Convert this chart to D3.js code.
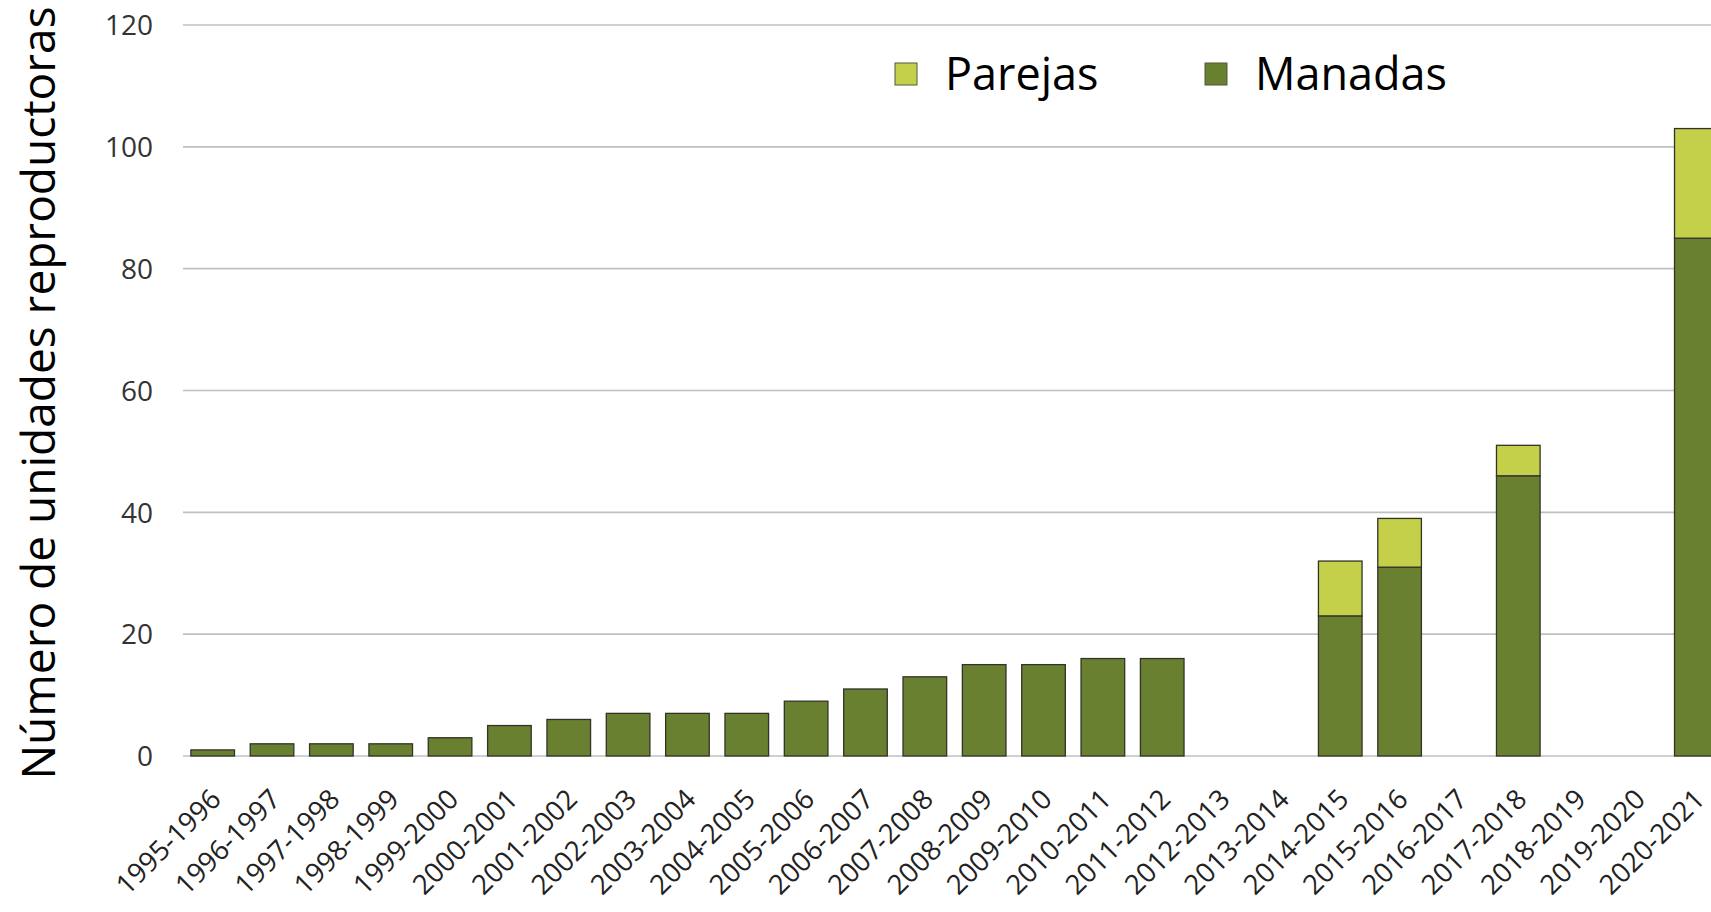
<!DOCTYPE html>
<html>
<head>
<meta charset="utf-8">
<script src="https://cdn.jsdelivr.net/npm/d3@7"></script>
<style>
  html, body { margin: 0; padding: 0; background: #ffffff; overflow: hidden; }
  svg { display: block; }
</style>
</head>
<body>
<svg id="chart" width="1711" height="912"></svg>
<script>
const categories = ["1995-1996","1996-1997","1997-1998","1998-1999","1999-2000","2000-2001","2001-2002","2002-2003","2003-2004","2004-2005","2005-2006","2006-2007","2007-2008","2008-2009","2009-2010","2010-2011","2011-2012","2012-2013","2013-2014","2014-2015","2015-2016","2016-2017","2017-2018","2018-2019","2019-2020","2020-2021"];
const manadas = [1,2,2,2,3,5,6,7,7,7,9,11,13,15,15,16,16,0,0,23,31,0,46,0,0,85];
const parejas = [0,0,0,0,0,0,0,0,0,0,0,0,0,0,0,0,0,0,0,9,8,0,5,0,0,18];
const yTicks = [0,20,40,60,80,100,120];
const seriesNames = ["Parejas","Manadas"];
const seriesColors = {"Manadas":"#68802f","Parejas":"#c5d04a"};
const yTitle = "Número de unidades reproductoras";

const svg = d3.select("#chart");
const W = 1711, H = 912;
const x0 = 183, x1 = 1726;
const x = d3.scaleBand().domain(categories).range([x0, x1]).paddingInner(0.265).paddingOuter(0.1325);
const y = d3.scaleLinear().domain([0,120]).range([756, 25]);
const font = "'Open Sans', sans-serif";

// gridlines
svg.append("g").selectAll("line").data(yTicks).join("line")
  .attr("x1", x0).attr("x2", W)
  .attr("y1", d => y(d)).attr("y2", d => y(d))
  .attr("stroke", "#c0c0c0").attr("stroke-width", 1.7);

// y tick labels
const yAxis = d3.axisLeft(y).tickValues(yTicks).tickSize(0).tickPadding(0);
const gy = svg.append("g").attr("transform", "translate(153,0)").call(yAxis);
gy.select(".domain").remove();
gy.selectAll("text").attr("font-family", font).attr("font-size", 28).attr("fill", "#333333").attr("dy", "0.35em");

// stacked bars
const rows = categories.map((c,i) => ({cat:c, Manadas:manadas[i], Parejas:parejas[i]}));
const stack = d3.stack().keys(["Manadas","Parejas"])(rows);
svg.append("g").selectAll("g").data(stack).join("g")
  .attr("fill", d => seriesColors[d.key])
  .selectAll("rect").data(d => d.filter(p => p[1] - p[0] > 0)).join("rect")
  .attr("x", d => x(d.data.cat))
  .attr("width", x.bandwidth())
  .attr("y", d => y(d[1]))
  .attr("height", d => y(d[0]) - y(d[1]))
  .attr("stroke", "#33332a").attr("stroke-width", 1.3);

// x labels
const gx = svg.append("g");
gx.selectAll("text").data(categories).join("text")
  .attr("transform", d => `translate(${x(d) + x.bandwidth()/2 + 10},${801}) rotate(-45)`)
  .attr("text-anchor", "end")
  .attr("font-family", font).attr("font-size", 27.5).attr("fill", "#222222")
  .text(d => d);

// y title
svg.append("text")
  .attr("transform", "translate(55,393) rotate(-90)")
  .attr("text-anchor", "middle")
  .attr("font-family", font).attr("font-size", 46).attr("fill", "#000")
  .text(yTitle);

// legend
const legendPos = {"Parejas": 895, "Manadas": 1205};
const lg = svg.append("g").selectAll("g").data(seriesNames).join("g")
  .attr("transform", d => `translate(${legendPos[d]},0)`);
lg.append("rect").attr("x", 0).attr("y", 63).attr("width", 22).attr("height", 22)
  .attr("fill", d => seriesColors[d]).attr("stroke", "#55583a").attr("stroke-width", 1);
lg.append("text").attr("x", 50).attr("y", 90)
  .attr("font-family", font).attr("font-size", 45).attr("fill", "#000")
  .text(d => d);
</script>
</body>
</html>
